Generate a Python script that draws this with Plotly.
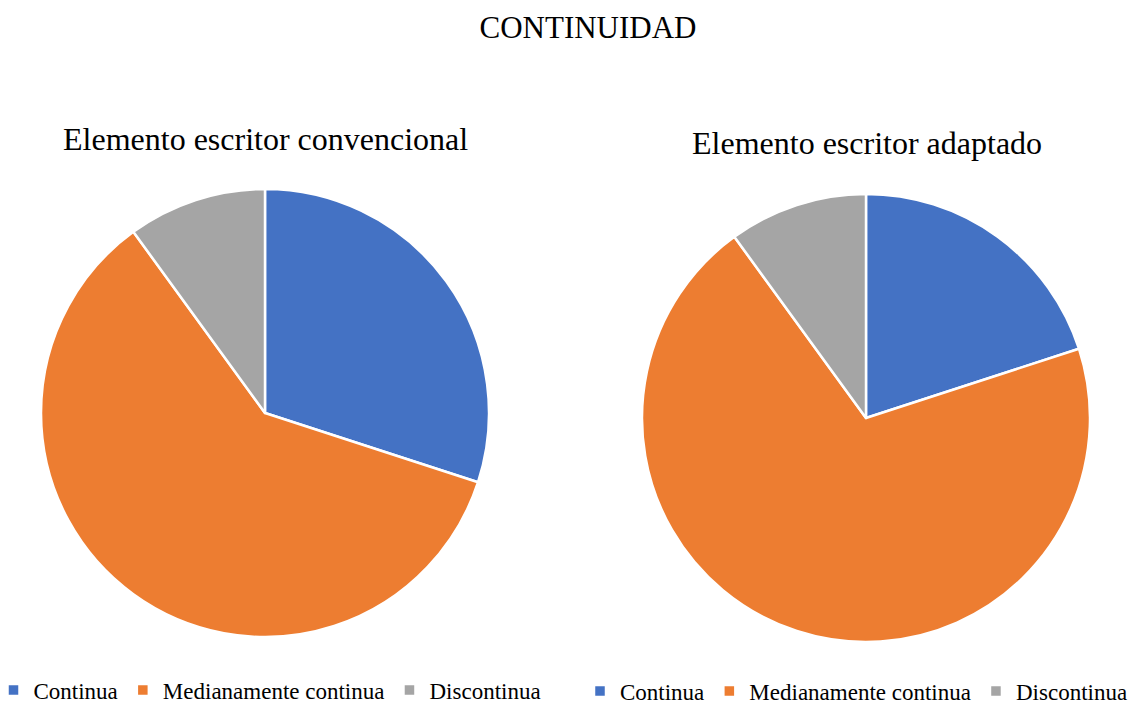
import plotly.graph_objects as go

categories = ["Continua", "Medianamente continua", "Discontinua"]
convencional = [30, 60, 10]
adaptado = [20, 70, 10]
colors = ["#4472C4", "#ED7D31", "#A5A5A5"]

W, H = 1133, 704
FONT = "Liberation Serif, Times New Roman, serif"


def dom(cx, cy, r):
    # pixel centre/radius -> paper-fraction domain
    return dict(x=[(cx - r) / W, (cx + r) / W],
                y=[(H - cy - r) / H, (H - cy + r) / H])


fig = go.Figure()
fig.add_trace(go.Pie(
    labels=categories, values=convencional, sort=False, direction="clockwise",
    rotation=0, textinfo="none", hoverinfo="label+percent",
    marker=dict(colors=colors, line=dict(color="white", width=2.5)),
    domain=dom(265, 413, 224), legend="legend", legendgroup="convencional",
))
fig.add_trace(go.Pie(
    labels=categories, values=adaptado, sort=False, direction="clockwise",
    rotation=0, textinfo="none", hoverinfo="label+percent",
    marker=dict(colors=colors, line=dict(color="white", width=2.5)),
    domain=dom(866, 418, 224), legend="legend2", legendgroup="adaptado",
))

legend_common = dict(orientation="h", yanchor="middle", traceorder="normal",
                     font=dict(family=FONT, size=23, color="#000000"),
                     bgcolor="rgba(0,0,0,0)", itemclick=False)

fig.update_layout(
    width=W, height=H,
    margin=dict(l=0, r=0, t=0, b=0, autoexpand=False),
    paper_bgcolor="white", plot_bgcolor="white",
    font=dict(family=FONT, color="#000000"),
    title=dict(text="CONTINUIDAD", x=588 / W, xanchor="center", y=1 - 27 / H,
               yanchor="middle", font=dict(family=FONT, size=31, color="#000000")),
    legend=dict(x=270 / W, xanchor="center", y=1 - 690 / H, **legend_common),
    legend2=dict(x=1.0, xanchor="right", y=1 - 691 / H, **legend_common),
    annotations=[
        dict(text="Elemento escritor convencional", x=265 / W, y=1 - 139 / H,
             xref="paper", yref="paper", xanchor="center", yanchor="middle",
             showarrow=False, font=dict(family=FONT, size=32, color="#000000")),
        dict(text="Elemento escritor adaptado", x=867 / W, y=1 - 143 / H,
             xref="paper", yref="paper", xanchor="center", yanchor="middle",
             showarrow=False, font=dict(family=FONT, size=32, color="#000000")),
    ],
)

fig.write_html("out.html")
